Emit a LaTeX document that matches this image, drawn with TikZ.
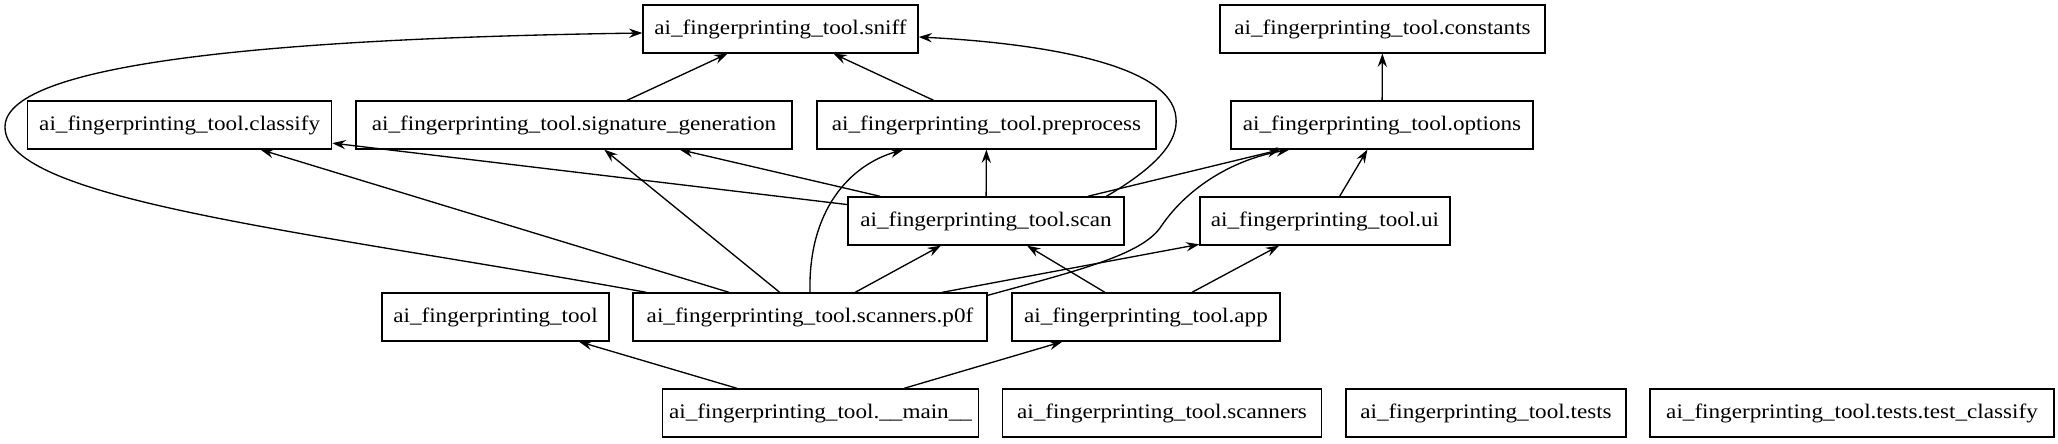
\documentclass[tikz,border=0pt]{standalone}
\usepackage{fontspec}
\setmainfont{Liberation Serif}[FakeStretch=1.12]
\usetikzlibrary{arrows.meta,calc}
\begin{document}
\begin{tikzpicture}[x=0.75pt,y=-0.75pt,
  mod/.style={draw,rectangle,line width=1pt,minimum height=36pt,inner sep=0pt,
    font=\fontsize{15.5pt}{17pt}\selectfont},
  dep/.style={line width=1pt,-{Stealth[length=10pt,width=7pt,inset=3.5pt]}}]
\useasboundingbox (0,0) rectangle (2058,443);
\node[mod,minimum width=206.25pt] (sniff) at (780.5,29) {ai\_fingerprinting\_tool.sniff};
\node[mod,minimum width=243.75pt] (constants) at (1382.5,29) {ai\_fingerprinting\_tool.constants};
\node[mod,minimum width=228pt] (classify) at (179.7,125) {ai\_fingerprinting\_tool.classify};
\node[mod,minimum width=327pt] (siggen) at (574,125) {ai\_fingerprinting\_tool.signature\_generation};
\node[mod,minimum width=254.25pt] (preprocess) at (986.5,125) {ai\_fingerprinting\_tool.preprocess};
\node[mod,minimum width=226.5pt] (options) at (1382,125) {ai\_fingerprinting\_tool.options};
\node[mod,minimum width=207pt] (scan) at (986,221) {ai\_fingerprinting\_tool.scan};
\node[mod,minimum width=187.5pt] (ui) at (1325,221) {ai\_fingerprinting\_tool.ui};
\node[mod,minimum width=170.25pt] (aift) at (495.5,317) {ai\_fingerprinting\_tool};
\node[mod,minimum width=265.5pt] (pof) at (810,317) {ai\_fingerprinting\_tool.scanners.p0f};
\node[mod,minimum width=201pt] (app) at (1146,317) {ai\_fingerprinting\_tool.app};
\node[mod,minimum width=237pt] (main) at (820.5,413) {ai\_fingerprinting\_tool.\_\_main\_\_};
\node[mod,minimum width=239pt] (scanners) at (1162,413) {ai\_fingerprinting\_tool.scanners};
\node[mod,minimum width=210pt] (tests) at (1486,413) {ai\_fingerprinting\_tool.tests};
\node[mod,minimum width=303pt] (testclassify) at (1852,413) {ai\_fingerprinting\_tool.tests.test\_classify};
% straight edges
\draw[dep] (siggen) -- (sniff);
\draw[dep] (preprocess) -- (sniff);
\draw[dep] (options) -- (constants);
\draw[dep] (scan) -- (classify);
\draw[dep] (scan) -- (siggen);
\draw[dep] (scan) -- (preprocess);
\draw[dep] (scan) -- (options);
\draw[dep] (ui) -- (options);
\draw[dep] (pof) -- (classify);
\draw[dep] (pof) -- (siggen);
\draw[dep] (pof) -- (scan);
\draw[dep] (pof) -- (ui);
\draw[dep] (app) -- (scan);
\draw[dep] (app) -- (ui);
\draw[dep] (main) -- (aift);
\draw[dep] (main) -- (app);
% curved edges
\draw[dep] ($(pof.north west)+(14,0)$) .. controls (300,230) and (5,200) .. (5,127)
  .. controls (5,60) and (300,38) .. ($(sniff.west)+(0,4)$);
\draw[dep] ($(scan.north west)+(259,0)$) .. controls (1160,165) and (1178,140) .. (1176,118)
  .. controls (1172,60) and (1020,42) .. ($(sniff.east)+(0,8)$);
\draw[dep] (pof.north) .. controls (808,210) and (850,165) .. ($(preprocess.south west)+(87,0)$);
\draw[dep] ($(pof.north east)+(0,3)$) .. controls (1080,270) and (1140,255) .. (1160,228)
  .. controls (1185,190) and (1230,160) .. ($(options.south west)+(59,0)$);
\end{tikzpicture}
\end{document}
